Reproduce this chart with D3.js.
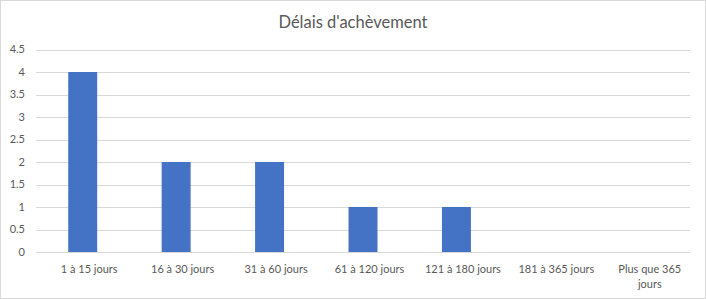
<!DOCTYPE html>
<html>
<head>
<meta charset="utf-8">
<script src="https://cdn.jsdelivr.net/npm/d3@7"></script>
<style>
  body { margin: 0; background: #fff; }
  svg { display: block; font-family: Lato, "Open Sans", sans-serif; }
</style>
</head>
<body>
<div id="chart"></div>
<script>
var categories = ["1 à 15 jours", "16 à 30 jours", "31 à 60 jours", "61 à 120 jours",
                  "121 à 180 jours", "181 à 365 jours", "Plus que 365 jours"];
var values = [4, 2, 2, 1, 1, 0, 0];
var yTicks = [0, 0.5, 1, 1.5, 2, 2.5, 3, 3.5, 4, 4.5];
var title = "Délais d'achèvement";

var width = 706, height = 299;
var margin = {top: 49.5, right: 16, bottom: 47, left: 36};

var svg = d3.select("#chart").append("svg")
    .attr("width", width)
    .attr("height", height);

// chart frame
svg.append("rect")
    .attr("x", 0.5).attr("y", 0.5)
    .attr("width", width - 1).attr("height", height - 1)
    .attr("fill", "#fff")
    .attr("stroke", "#d9d9d9");

var x = d3.scaleBand()
    .domain(categories)
    .range([margin.left, width - margin.right])
    .paddingInner(0.69)
    .paddingOuter(0.345);

var y = d3.scaleLinear()
    .domain([0, 4.5])
    .range([height - margin.bottom, margin.top]);

// gridlines
svg.append("g")
    .selectAll("line")
    .data(yTicks)
    .enter().append("line")
    .attr("x1", margin.left)
    .attr("x2", width - margin.right)
    .attr("y1", function (d) { return Math.round(y(d)) + 0.5; })
    .attr("y2", function (d) { return Math.round(y(d)) + 0.5; })
    .attr("stroke", "#d9d9d9")
    .attr("stroke-width", 1);

// y labels
svg.append("g")
    .selectAll("text")
    .data(yTicks)
    .enter().append("text")
    .attr("x", 25)
    .attr("y", function (d) { return y(d); })
    .attr("dy", "0.35em")
    .attr("text-anchor", "end")
    .attr("fill", "#595959")
    .attr("font-size", 11)
    .text(function (d) { return d; });

// bars
svg.append("g")
    .selectAll("rect")
    .data(values)
    .enter().append("rect")
    .attr("x", function (d, i) { return x(categories[i]); })
    .attr("y", function (d) { return y(d); })
    .attr("width", x.bandwidth())
    .attr("height", function (d) { return y(0) - y(d); })
    .attr("fill", "#4472c4");

// x labels, wrapped like excel does (they sit a bit right of the bar centre)
var step = x.step();
var xLabels = svg.append("g")
    .selectAll("text")
    .data(categories)
    .enter().append("text")
    .attr("x", function (d) { return x(d) + x.bandwidth() / 2 + 6.5; })
    .attr("y", 273)
    .attr("text-anchor", "middle")
    .attr("fill", "#595959")
    .attr("font-size", 11);

xLabels.each(function (d) {
    var el = d3.select(this);
    var words = d.split(" "), line = [], lines = [];
    var tmp = el.append("tspan");
    words.forEach(function (w) {
        line.push(w);
        tmp.text(line.join(" "));
        if (tmp.node().getComputedTextLength() > step - 10 && line.length > 1) {
            line.pop();
            lines.push(line.join(" "));
            line = [w];
        }
    });
    lines.push(line.join(" "));
    tmp.remove();
    lines.forEach(function (l, i) {
        el.append("tspan")
            .attr("x", el.attr("x"))
            .attr("dy", i === 0 ? 0 : 15)
            .text(l);
    });
});

// title
svg.append("text")
    .attr("x", width / 2)
    .attr("y", 28)
    .attr("text-anchor", "middle")
    .attr("fill", "#595959")
    .attr("font-size", 16.5)
    .text(title);
</script>
</body>
</html>
